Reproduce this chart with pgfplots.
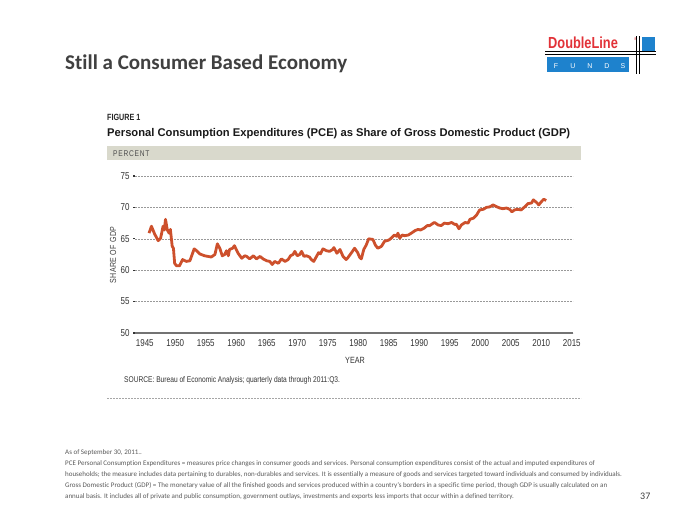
\documentclass[border=0pt]{standalone}
\usepackage{fontspec}
\setmainfont{Carlito}[Ligatures={NoCommon}]
\newfontfamily\cond[FakeStretch=0.8]{Liberation Sans}
\newfontfamily\condsp[FakeStretch=0.8, LetterSpace=9]{Liberation Sans}
\newfontfamily\condsq[FakeStretch=0.8, LetterSpace=4]{Liberation Sans}
\newfontfamily\lsans{Liberation Sans}
\usepackage{pgfplots}
\pgfplotsset{compat=1.18}
\definecolor{pceline}{RGB}{205,80,44}
\definecolor{band}{RGB}{217,217,204}
\definecolor{titlegray}{RGB}{64,64,64}
\definecolor{dlred}{RGB}{226,50,56}
\definecolor{dlblue}{RGB}{30,130,205}
\definecolor{notegray}{RGB}{90,90,90}
\begin{document}
\begin{tikzpicture}
\begin{scope}[x=1pt,y=-1pt]
\fill[white] (0,0) rectangle (700,525);
\useasboundingbox (0,0) rectangle (700,525);
% slide title
\node[anchor=base west, inner sep=0, text=titlegray, font=\fontsize{21}{24}\selectfont\bfseries] at (65,69) {Still a Consumer Based Economy};
% logo
\node[anchor=base west, inner sep=0, text=dlred, font=\cond\fontsize{16}{16}\selectfont\bfseries] at (548,48) {DoubleLine};
\node[anchor=base west, inner sep=0, text=dlred, font=\lsans\fontsize{4}{4}\selectfont] at (634,40) {\textregistered};
\fill[dlblue] (547,57) rectangle (629,72);
\fill[dlblue] (642,37) rectangle (655,51);
\draw[black, line width=0.9pt] (545,51.5) -- (656,51.5);
\draw[black, line width=0.9pt] (545,54.5) -- (656,54.5);
\draw[black, line width=0.9pt] (636.5,36) -- (636.5,74);
\draw[black, line width=0.9pt] (639.5,36) -- (639.5,74);
\foreach \ch/\xx in {F/556,U/573,N/590,D/607,S/623}
  \node[anchor=base, inner sep=0, text=white, font=\lsans\fontsize{7}{7}\selectfont] at (\xx,68) {\ch};
% figure header
\node[anchor=base west, inner sep=0, text=black!85, font=\cond\fontsize{9}{9}\selectfont\bfseries] at (107,120.5) {FIGURE 1};
\node[anchor=base west, inner sep=0, text=black!90, font=\lsans\fontsize{11.2}{12}\selectfont\bfseries] at (107,136.5) {Personal Consumption Expenditures (PCE) as Share of Gross Domestic Product (GDP)};
\fill[band] (107,146) rectangle (581,160);
\node[anchor=base west, inner sep=0, text=black!70, font=\condsp\fontsize{8.3}{9}\selectfont] at (113,156.5) {PERCENT};
% axis labels
\node[rotate=90, anchor=center, inner sep=0, text=black!75, font=\condsq\fontsize{8.8}{10}\selectfont] at (113,255) {SHARE OF GDP};
\node[anchor=center, inner sep=0, text=black!80, font=\cond\fontsize{9}{10}\selectfont] at (355,360) {YEAR};
\node[anchor=base west, inner sep=0, text=black!80, font=\cond\fontsize{8.3}{10}\selectfont] at (124,382) {SOURCE: Bureau of Economic Analysis; quarterly data through 2011:Q3.};
\draw[gray!70, dash pattern=on 2pt off 1pt, line width=0.5pt] (107,398) -- (581,398);
% footnotes
\begin{scope}[every node/.style={anchor=base west, inner sep=0, text=notegray, font=\fontsize{7}{9}\selectfont}]
\node at (65,454) {As of September 30, 2011..};
\node at (65,465) {PCE Personal Consumption Expenditures = measures price changes in consumer goods and services. Personal consumption expenditures consist of the actual and imputed expenditures of};
\node at (65,476) {households; the measure includes data pertaining to durables, non-durables and services. It is essentially a measure of goods and services targeted toward individuals and consumed by individuals.};
\node at (65,487) {Gross Domestic Product (GDP) = The monetary value of all the finished goods and services produced within a country's borders in a specific time period, though GDP is usually calculated on an};
\node at (65,498) {annual basis. It includes all of private and public consumption, government outlays, investments and exports less imports that occur within a defined territory.};
\end{scope}
\node[anchor=base west, inner sep=0, text=titlegray, font=\fontsize{10}{12}\selectfont] at (640,499) {37};
\end{scope}
\begin{axis}[
  at={(135pt,-333pt)}, anchor=south west,
  scale only axis, width=438pt, height=157pt,
  xmin=1943.4, xmax=2015.2, ymin=50, ymax=75,
  axis x line*=bottom, axis y line*=left,
  x axis line style={draw=black!55, line width=1.2pt},
  y axis line style={draw=none},
  xtick={1945,1950,...,2015},
  xticklabels={1945,1950,1955,1960,1965,1970,1975,1980,1985,1990,1995,2000,2005,2010,2015},
  ytick={50,55,...,75},
  yticklabels={50,55,60,65,70,75},
  x tick style={draw=none},
  y tick style={draw=black!80, line width=1.3pt},
  major tick length=2pt,
  tick align=outside,
  ymajorgrids,
  grid style={draw=black!40, dash pattern=on 2pt off 1pt, line width=0.5pt},
  ticklabel style={font=\cond\fontsize{10}{11}\selectfont, text=black!80},
  xticklabel style={yshift=-1pt},
  clip=false,
]
\addplot[pceline, line width=2.8pt, line join=round] coordinates {
(1945.7,65.9) (1946.1,67.0) (1946.6,65.8) (1947.2,64.7) (1947.6,65.1) (1948.0,67.0) (1948.2,66.4) (1948.4,68.1) (1948.7,66.4) (1949.0,65.9) (1949.2,66.5) (1949.5,63.8) (1949.7,63.5) (1949.9,61.1) (1950.2,60.7) (1950.7,60.7) (1951.2,61.7) (1951.8,61.4) (1952.4,61.5) (1953.1,63.4) (1953.5,63.1) (1954.0,62.6) (1954.8,62.3) (1955.9,62.1) (1956.5,62.5) (1956.9,64.2) (1957.3,63.5) (1957.7,62.3) (1958.1,62.5) (1958.4,63.1) (1958.7,62.3) (1958.9,63.3) (1959.4,63.5) (1959.7,63.9) (1960.3,62.7) (1960.9,61.9) (1961.4,62.3) (1961.7,62.2) (1962.2,61.8) (1962.8,62.3) (1963.3,61.8) (1963.9,62.2) (1964.4,61.8) (1965.0,61.5) (1965.5,61.4) (1965.9,60.9) (1966.3,61.4) (1966.9,61.1) (1967.4,61.8) (1968.0,61.4) (1968.5,61.7) (1968.9,62.3) (1969.3,62.5) (1969.6,63.0) (1970.0,62.3) (1970.4,62.5) (1970.7,63.0) (1971.1,62.2) (1971.5,62.3) (1972.0,62.1) (1972.3,61.7) (1972.7,61.4) (1973.1,62.1) (1973.5,62.8) (1973.8,62.6) (1974.2,63.4) (1974.8,63.1) (1975.3,63.0) (1975.8,63.3) (1976.0,63.6) (1976.5,62.7) (1977.0,63.3) (1977.5,62.2) (1978.0,61.7) (1978.3,62.0) (1978.9,62.8) (1979.4,63.5) (1979.9,62.8) (1980.2,62.1) (1980.5,61.8) (1980.9,63.3) (1981.3,64.0) (1981.7,65.0) (1982.4,64.9) (1982.8,64.0) (1983.2,63.5) (1983.8,63.8) (1984.3,64.6) (1985.0,64.8) (1985.4,65.1) (1985.9,65.6) (1986.3,65.4) (1986.5,65.9) (1986.8,65.1) (1987.2,65.6) (1987.6,65.5) (1988.2,65.6) (1988.7,65.9) (1989.3,66.3) (1989.8,66.5) (1990.2,66.4) (1990.8,66.7) (1991.3,67.1) (1991.7,67.1) (1992.3,67.5) (1992.5,67.6) (1993.1,67.2) (1993.6,67.1) (1994.1,67.5) (1994.7,67.4) (1995.3,67.6) (1995.8,67.3) (1996.1,67.3) (1996.5,66.6) (1996.9,67.2) (1997.5,67.6) (1998.0,67.5) (1998.3,68.1) (1998.9,68.3) (1999.4,68.8) (1999.9,69.6) (2000.5,69.7) (2001.0,70.0) (2001.6,70.1) (2002.1,70.4) (2002.7,70.1) (2003.2,69.9) (2003.7,69.8) (2004.3,69.9) (2004.8,69.7) (2005.2,69.3) (2005.6,69.6) (2006.1,69.7) (2006.7,69.6) (2007.3,70.1) (2007.8,70.6) (2008.4,70.7) (2008.7,71.2) (2009.2,70.8) (2009.6,70.4) (2010.0,70.9) (2010.4,71.3) (2010.8,71.1)
};
\end{axis}
\end{tikzpicture}
\end{document}
